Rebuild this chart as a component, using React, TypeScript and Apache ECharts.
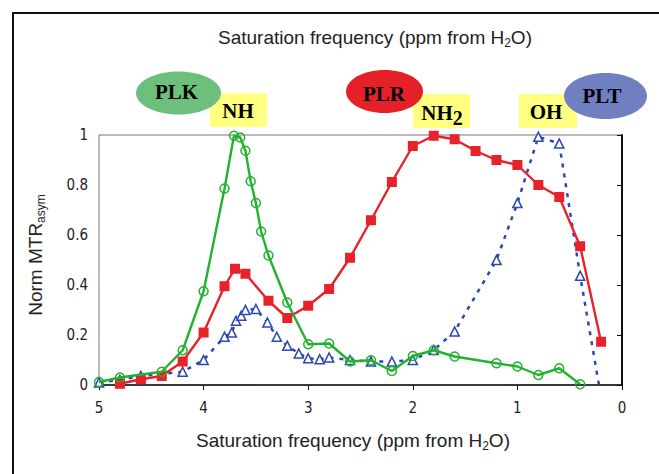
import React, { useEffect, useRef } from "react";
import * as echarts from "echarts";

// PLK (green, open circles)
const plkX = [5.0, 4.8, 4.4, 4.2, 4.0, 3.8, 3.71, 3.65, 3.6, 3.55, 3.5, 3.45, 3.38, 3.2, 3.0, 2.8, 2.6, 2.4, 2.2, 2.0, 1.8, 1.6, 1.2, 1.0, 0.8, 0.6, 0.4];
const plkY = [0.012, 0.03, 0.053, 0.139, 0.375, 0.786, 0.997, 0.99, 0.937, 0.815, 0.728, 0.614, 0.518, 0.33, 0.163, 0.166, 0.094, 0.099, 0.056, 0.116, 0.139, 0.114, 0.087, 0.074, 0.04, 0.067, 0.003];

// PLR (red, filled squares)
const plrX = [4.8, 4.6, 4.4, 4.2, 4.0, 3.8, 3.7, 3.6, 3.38, 3.2, 3.0, 2.8, 2.6, 2.4, 2.2, 2.0, 1.8, 1.6, 1.4, 1.2, 1.0, 0.8, 0.6, 0.4, 0.2];
const plrY = [0.005, 0.023, 0.036, 0.094, 0.21, 0.395, 0.465, 0.445, 0.337, 0.268, 0.317, 0.384, 0.509, 0.659, 0.812, 0.956, 0.997, 0.983, 0.936, 0.9, 0.88, 0.8, 0.752, 0.555, 0.173];

// PLT (blue, open triangles, dotted line)
const pltX = [5.0, 4.8, 4.6, 4.2, 4.0, 3.8, 3.73, 3.69, 3.64, 3.6, 3.5, 3.39, 3.3, 3.2, 3.09, 3.0, 2.89, 2.8, 2.6, 2.4, 2.2, 2.0, 1.8, 1.6, 1.2, 1.0, 0.8, 0.6, 0.4, 0.22];
const pltY = [0.01, 0.02, 0.036, 0.053, 0.1, 0.193, 0.21, 0.257, 0.277, 0.3, 0.304, 0.25, 0.193, 0.157, 0.126, 0.107, 0.103, 0.11, 0.1, 0.094, 0.094, 0.1, 0.14, 0.214, 0.5, 0.728, 0.993, 0.966, 0.437, 0.0];

const xTicks = [0, 1, 2, 3, 4, 5];
const yTicks = [0, 0.2, 0.4, 0.6, 0.8, 1];

const GREEN = "#22b22e";
const RED = "#e8222a";
const BLUE = "#2c48b4";

const zip = (xs: number[], ys: number[]) => xs.map((x, i) => [x, ys[i]]);

export default function App() {
  const ref = useRef<HTMLDivElement>(null);
  useEffect(() => {
    if (!ref.current) return;
    const chart = echarts.init(ref.current, null, { renderer: "svg" });
    const sans = "Liberation Sans, Arial, sans-serif";
    const narrow = "Liberation Sans Narrow, DejaVu Sans Condensed, Liberation Sans, sans-serif";
    const serif = "Liberation Serif, Times New Roman, serif";
    const lbl = (text: string, x: number, y: number) => ({
      type: "text",
      x,
      y,
      z: 10,
      style: { text, fontFamily: serif, fontSize: 21, fontWeight: "bold", fill: "#000", align: "center", verticalAlign: "middle" },
    });
    const bluePts = zip(pltX, pltY).map((p, i) =>
      i === pltX.length - 1 ? { value: p, symbolSize: 0 } : { value: p }
    );
    chart.setOption({
      animation: false,
      backgroundColor: "#ffffff",
      title: {
        text: "Saturation frequency (ppm from H{s|2}O)",
        left: 370,
        top: 20,
        textAlign: "center",
        textStyle: {
          fontFamily: sans,
          fontSize: 19,
          fontWeight: "normal",
          color: "#222",
          rich: { s: { fontSize: 12, verticalAlign: "bottom", padding: [12, 0, 0, 0], fontFamily: sans, color: "#222" } },
        },
      },
      grid: { left: 99, right: 37, top: 135, bottom: 89, show: true, borderColor: "#777", borderWidth: 1 },
      xAxis: {
        type: "value",
        inverse: true,
        min: 0,
        max: 5,
        interval: 1,
        splitLine: { show: false },
        axisLine: { show: true, lineStyle: { color: "#111", width: 1.5 } },
        axisTick: { show: true, length: 5, lineStyle: { color: "#111" } },
        axisLabel: {
          fontFamily: narrow,
          fontSize: 15,
          color: "#222",
          margin: 15,
          formatter: (v: number) => (xTicks.includes(v) ? String(v) : ""),
        },
      },
      yAxis: {
        type: "value",
        min: 0,
        max: 1,
        interval: 0.2,
        splitLine: { show: false },
        axisLine: { show: true, lineStyle: { color: "#111", width: 2 } },
        axisTick: { show: true, length: 5, lineStyle: { color: "#111" } },
        axisLabel: {
          fontFamily: narrow,
          fontSize: 15,
          color: "#222",
          margin: 11,
          formatter: (v: number) => {
            const t = yTicks.find((k) => Math.abs(k - v) < 1e-6);
            return t === undefined ? "" : String(Math.round(t * 10) / 10);
          },
        },
      },
      series: [
        {
          name: "PLT",
          type: "line",
          data: bluePts,
          symbol: "triangle",
          symbolSize: 9,
          showAllSymbol: true,
          lineStyle: { color: BLUE, width: 2.5, type: [4, 6] },
          itemStyle: { color: "#ffffff", borderColor: BLUE, borderWidth: 1.6 },
          z: 2,
        },
        {
          name: "PLR",
          type: "line",
          data: zip(plrX, plrY),
          symbol: "rect",
          symbolSize: 10,
          showAllSymbol: true,
          lineStyle: { color: RED, width: 2.4 },
          itemStyle: { color: RED, borderColor: RED, borderWidth: 0 },
          z: 3,
        },
        {
          name: "PLK",
          type: "line",
          data: zip(plkX, plkY),
          symbol: "circle",
          symbolSize: 9,
          showAllSymbol: true,
          lineStyle: { color: GREEN, width: 2.4 },
          itemStyle: { color: "rgba(255,255,255,0)", borderColor: GREEN, borderWidth: 1.5 },
          z: 4,
        },
      ],
      graphic: [
        {
          type: "rect",
          shape: { x: 13, y: 13, width: 700, height: 520 },
          style: { fill: "none", stroke: "#111", lineWidth: 2 },
          silent: true,
        },
        {
          type: "text",
          x: 35,
          y: 255,
          rotation: Math.PI / 2,
          style: {
            text: "Norm MTR{s|asym}",
            fontFamily: sans,
            fontSize: 19,
            fill: "#222",
            align: "center",
            verticalAlign: "middle",
            rich: { s: { fontSize: 12, fontFamily: sans, fill: "#222", padding: [11, 0, 0, 0] } },
          },
        },
        {
          type: "text",
          x: 353,
          y: 440,
          style: {
            text: "Saturation frequency (ppm from H{s|2}O)",
            fontFamily: sans,
            fontSize: 19,
            fill: "#222",
            align: "center",
            verticalAlign: "middle",
            rich: { s: { fontSize: 12, fontFamily: sans, fill: "#222", padding: [12, 0, 0, 0] } },
          },
        },
        // PLK group
        { type: "rect", shape: { x: 210, y: 93, width: 57, height: 34 }, style: { fill: "#ffff80" } },
        { type: "ellipse", shape: { cx: 178.5, cy: 93, rx: 42.5, ry: 21.5 }, style: { fill: "#6cc07c" } },
        lbl("PLK", 176.5, 92),
        lbl("NH", 238, 111),
        // PLR group
        { type: "rect", shape: { x: 413, y: 94, width: 57, height: 34 }, style: { fill: "#ffff80" } },
        { type: "ellipse", shape: { cx: 384.5, cy: 91.5, rx: 38.5, ry: 21.5 }, style: { fill: "#e52127" } },
        lbl("PLR", 384, 94),
        {
          type: "text",
          x: 442,
          y: 113,
          z: 10,
          style: {
            text: "NH{s|2}",
            fontFamily: serif,
            fontSize: 21,
            fontWeight: "bold",
            fill: "#000",
            align: "center",
            verticalAlign: "middle",
            rich: { s: { fontFamily: serif, fontSize: 20, fontWeight: "bold", fill: "#000", padding: [9, 0, 0, 0] } },
          },
        },
        // PLT group
        { type: "rect", shape: { x: 519, y: 94, width: 58, height: 34 }, style: { fill: "#ffff80" } },
        { type: "ellipse", shape: { cx: 605.5, cy: 96, rx: 41.5, ry: 23 }, style: { fill: "#6f7fc0" } },
        lbl("OH", 546, 112),
        lbl("PLT", 602, 96),
      ],
    });
    return () => chart.dispose();
  }, []);
  return (
    <div
      ref={ref}
      style={{ position: "fixed", left: 0, top: 0, width: 659, height: 474, background: "#fff" }}
    />
  );
}
